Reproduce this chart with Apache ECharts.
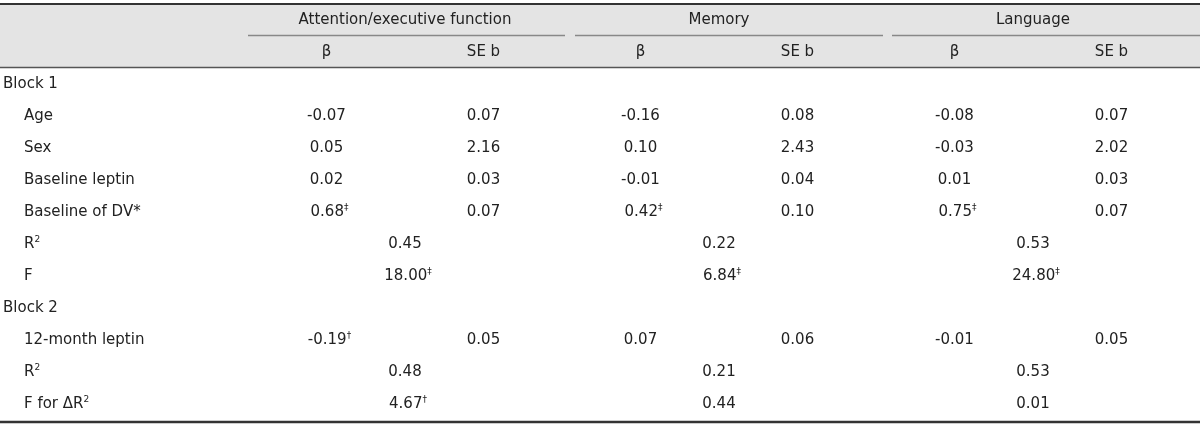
<!DOCTYPE html>
<html>
<head>
<meta charset="utf-8">
<script src="https://cdn.jsdelivr.net/npm/echarts@6/dist/echarts.min.js"></script>
<style>
  html, body { margin: 0; padding: 0; background: #fff; }
  #regTable { width: 1200px; height: 427px; }
</style>
</head>
<body>
<div id="regTable"></div>
<script>
// table content, "^" marks a superscript
var rowLabels = ['Block 1', 'Age', 'Sex', 'Baseline leptin', 'Baseline of DV*', 'R^2', 'F',
  'Block 2', '12-month leptin', 'R^2', 'F for ΔR^2'];
var groups = ['Attention/executive function', 'Memory', 'Language'];
var subHeads = ['β', 'SE b'];

var attnBeta = ['', '-0.07', '0.05', '0.02', '0.68^‡', '', '', '', '-0.19^†', '', ''];
var attnSE   = ['', '0.07', '2.16', '0.03', '0.07', '', '', '', '0.05', '', ''];
var attnFit  = ['', '', '', '', '', '0.45', '18.00^‡', '', '', '0.48', '4.67^†'];

var memBeta = ['', '-0.16', '0.10', '-0.01', '0.42^‡', '', '', '', '0.07', '', ''];
var memSE   = ['', '0.08', '2.43', '0.04', '0.10', '', '', '', '0.06', '', ''];
var memFit  = ['', '', '', '', '', '0.22', '6.84^‡', '', '', '0.21', '0.44'];

var langBeta = ['', '-0.08', '-0.03', '0.01', '0.75^‡', '', '', '', '-0.01', '', ''];
var langSE   = ['', '0.07', '2.02', '0.03', '0.07', '', '', '', '0.05', '', ''];
var langFit  = ['', '', '', '', '', '0.53', '24.80^‡', '', '', '0.53', '0.01'];

var FONT = 'DejaVu Sans';
var TXT = '#222';

function richText(s, base) {
  var parts = String(s).split('^');
  var out = '{' + base + '|' + parts[0] + '}';
  if (parts.length > 1) out += '{sup|' + parts[1] + '}';
  return out;
}

var rich = {
  n: { fontSize: 15, lineHeight: 18, color: TXT, fontFamily: FONT },
  ind: { fontSize: 15, lineHeight: 18, color: TXT, fontFamily: FONT, padding: [0, 0, 0, 21] },
  sup: { fontSize: 9, lineHeight: 10, color: TXT, fontFamily: FONT, verticalAlign: 'top' }
};

// column x on the value axis: group*2 + 0.5 (β), +1.5 (SE b), +1 (merged)
var columns = [
  [attnBeta, 0.5], [attnSE, 1.5], [attnFit, 1],
  [memBeta, 2.5], [memSE, 3.5], [memFit, 3],
  [langBeta, 4.5], [langSE, 5.5], [langFit, 5]
];

var cells = [];
groups.forEach(function(g, gi) {
  cells.push([gi * 2 + 1, 0, g]);
  cells.push([gi * 2 + 0.5, 1, subHeads[0]]);
  cells.push([gi * 2 + 1.5, 1, subHeads[1]]);
});
columns.forEach(function(col) {
  col[0].forEach(function(v, i) {
    if (v !== '') cells.push([col[1], i + 2, v]);
  });
});

var cellData = cells.map(function(c) {
  var hasSup = String(c[2]).indexOf('^') > -1;
  return {
    value: c,
    label: { offset: [hasSup ? 3 : 0, 0] }
  };
});

var chart = echarts.init(document.getElementById('regTable'));
chart.setOption({
  backgroundColor: '#fff',
  animation: false,
  grid: { left: 248, right: 10, top: 4, bottom: 7 },
  xAxis: { type: 'value', min: 0, max: 6, show: false },
  yAxis: {
    type: 'category',
    inverse: true,
    data: ['', ''].concat(rowLabels),
    axisLine: { show: false },
    axisTick: { show: false },
    splitLine: { show: false },
    axisLabel: {
      interval: 0,
      align: 'left',
      margin: 245,
      color: TXT,
      formatter: function(v) {
        if (!v) return '';
        return richText(v, v.indexOf('Block') === 0 ? 'n' : 'ind');
      },
      rich: rich
    }
  },
  graphic: [
    { type: 'rect', z: -10, shape: { x: 0, y: 4, width: 1200, height: 63 }, style: { fill: '#e4e4e4' } },
    { type: 'line', shape: { x1: 0, y1: 4, x2: 1200, y2: 4 }, style: { stroke: '#333', lineWidth: 2 } },
    { type: 'line', shape: { x1: 248, y1: 35.5, x2: 565, y2: 35.5 }, style: { stroke: '#888', lineWidth: 1.3 } },
    { type: 'line', shape: { x1: 575, y1: 35.5, x2: 883, y2: 35.5 }, style: { stroke: '#888', lineWidth: 1.3 } },
    { type: 'line', shape: { x1: 892, y1: 35.5, x2: 1200, y2: 35.5 }, style: { stroke: '#888', lineWidth: 1.3 } },
    { type: 'line', shape: { x1: 0, y1: 67.5, x2: 1200, y2: 67.5 }, style: { stroke: '#555', lineWidth: 1.3 } },
    { type: 'line', shape: { x1: 0, y1: 422, x2: 1200, y2: 422 }, style: { stroke: '#333', lineWidth: 2.5 } }
  ],
  series: [{
    type: 'scatter',
    symbolSize: 1,
    itemStyle: { color: '#fff', opacity: 1 },
    silent: true,
    z: 5,
    label: {
      show: true,
      position: 'inside',
      color: TXT,
      opacity: 1,
      textBorderWidth: 0,
      formatter: function(p) { return richText(p.value[2], 'n'); },
      rich: rich
    },
    data: cellData
  }]
});
</script>
</body>
</html>
